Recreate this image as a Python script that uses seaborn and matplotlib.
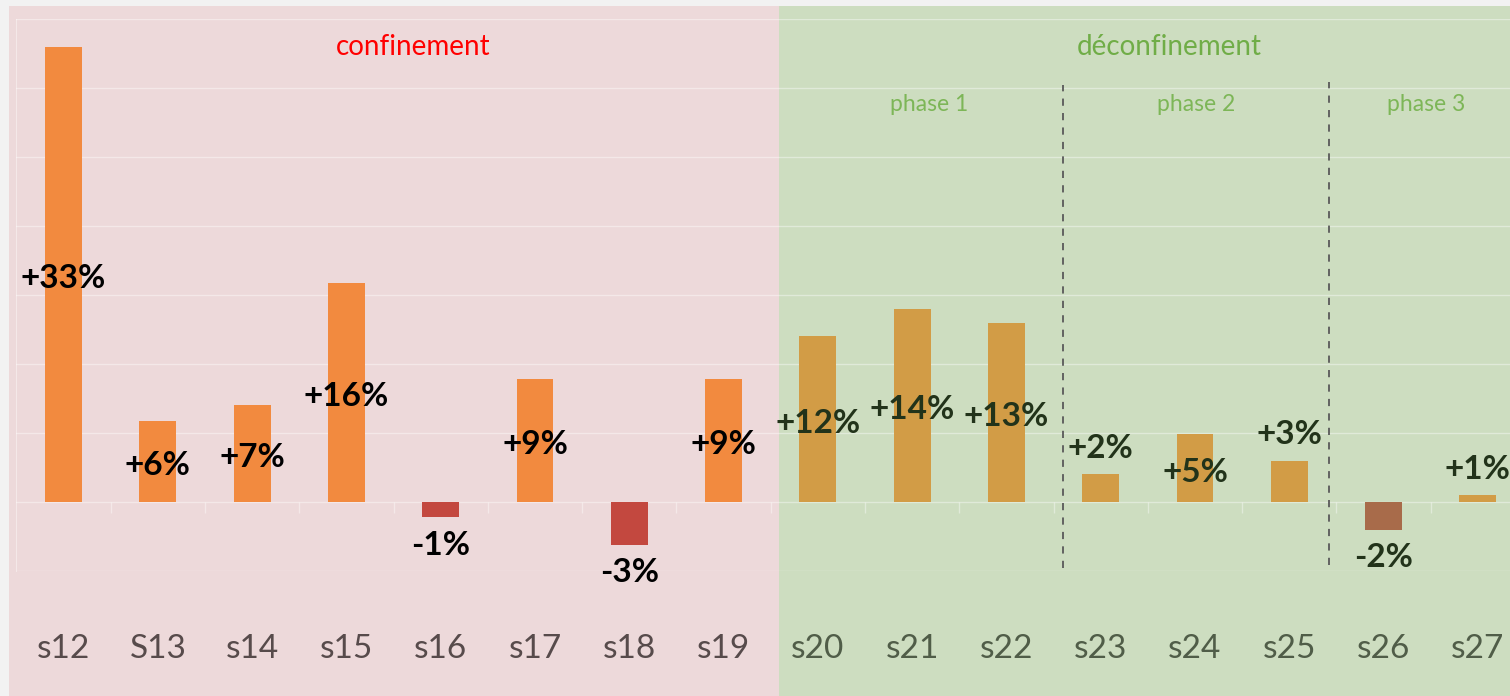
import matplotlib.pyplot as plt
import matplotlib.transforms as mtransforms
import numpy as np
import pandas as pd
import seaborn as sns
from matplotlib.patches import Rectangle

weeks = ["s12", "S13", "s14", "s15", "s16", "s17", "s18", "s19",
         "s20", "s21", "s22", "s23", "s24", "s25", "s26", "s27"]
growth = [33.0, 5.9, 7.0, 15.9, -1.1, 8.9, -3.1, 8.9,
          12.0, 14.0, 13.0, 2.0, 4.9, 3.0, -2.0, 0.5]
growth_labels = ["+33%", "+6%", "+7%", "+16%", "-1%", "+9%", "-3%", "+9%",
                 "+12%", "+14%", "+13%", "+2%", "+5%", "+3%", "-2%", "+1%"]
period = ["confinement"] * 8 + ["déconfinement"] * 8
phase_names = ["phase 1", "phase 2", "phase 3"]

df = pd.DataFrame({"week": weeks, "growth": growth, "label": growth_labels, "period": period})


def bar_color(row):
    if row.period == "confinement":
        return "#F28A3F" if row.growth >= 0 else "#C3483F"
    return "#D29C46" if row.growth >= 0 else "#A86B4A"


df["color"] = df.apply(bar_color, axis=1)

sns.set_style("white")
plt.rcParams["font.family"] = ["Lato", "DejaVu Sans"]

W, H = 1510, 696
fig = plt.figure(figsize=(W / 100, H / 100), dpi=100, facecolor="#F2F2F2")
ax = fig.add_axes([16.4 / W, (H - 571) / H, (1525 - 16.4) / W, 552 / H])
ax.set_facecolor("none")

sns.barplot(data=df, x="week", y="growth", hue="week", palette=list(df["color"]),
            legend=False, width=0.39, saturation=1, linewidth=0, ax=ax, zorder=3)
ax.set_xlim(-0.5, 15.5)
ax.set_ylim(-5, 35)

# period backgrounds spanning the whole figure height
blend = mtransforms.blended_transform_factory(ax.transData, fig.transFigure)
top = (H - 6) / H
fig.add_artist(Rectangle((-0.578, 0), 7.59 + 0.578, top, transform=blend,
                         facecolor="#EDD9DA", edgecolor="none", zorder=-2))
fig.add_artist(Rectangle((7.59, 0), 9, top, transform=blend,
                         facecolor="#CDDDC0", edgecolor="none", zorder=-2))

ax.set_yticks(np.arange(-5, 36, 5))
ax.set_yticklabels([])
ax.grid(axis="y", color="white", alpha=0.4, linewidth=1)
ax.set_axisbelow(True)
for side in ["top", "right", "bottom"]:
    ax.spines[side].set_visible(False)
ax.spines["left"].set_color((1, 1, 1, 0.4))
ax.vlines(np.arange(0.5, 15.5), -0.8, 0, color="white", alpha=0.4, linewidth=1, zorder=1)
ax.set_xlabel("")
ax.set_ylabel("")
ax.tick_params(axis="x", length=0, pad=45, labelsize=24)
ax.tick_params(axis="y", length=0)
for lbl, p in zip(ax.get_xticklabels(), period):
    lbl.set_color("#574B4B" if p == "confinement" else "#505D48")

# value labels: centred inside tall bars, outside small or negative ones
for i, row in df.iterrows():
    color = "#000000" if row.period == "confinement" else "#22331A"
    if row.growth >= 4:
        y, off = row.growth / 2, -4
    elif row.growth >= 0:
        y, off = row.growth, 26
    else:
        y, off = row.growth, -28
    ax.annotate(row.label, (i, y), xytext=(0, off * 0.72), textcoords="offset points",
                ha="center", va="center", fontsize=24, fontweight="bold", color=color, zorder=5)

# period and phase titles
ax.text(3.71, 33.0, "confinement", ha="center", va="center", fontsize=20, color="#FF0000")
ax.text(11.73, 33.0, "déconfinement", ha="center", va="center", fontsize=20, color="#70AD47")
for x, name in zip([9.18, 12.01, 14.45], phase_names):
    ax.text(x, 28.8, name, ha="center", va="center", fontsize=16.5, color="#7DB657")

ax.vlines(10.6, -4.8, 30.2, color="#595959", linestyle=(0, (4, 4)), linewidth=1.3, zorder=4)
ax.vlines(13.42, -4.6, 30.4, color="#595959", linestyle=(0, (4, 4)), linewidth=1.3, zorder=4)

fig.savefig("out.png", dpi=100, facecolor=fig.get_facecolor())
plt.close(fig)
